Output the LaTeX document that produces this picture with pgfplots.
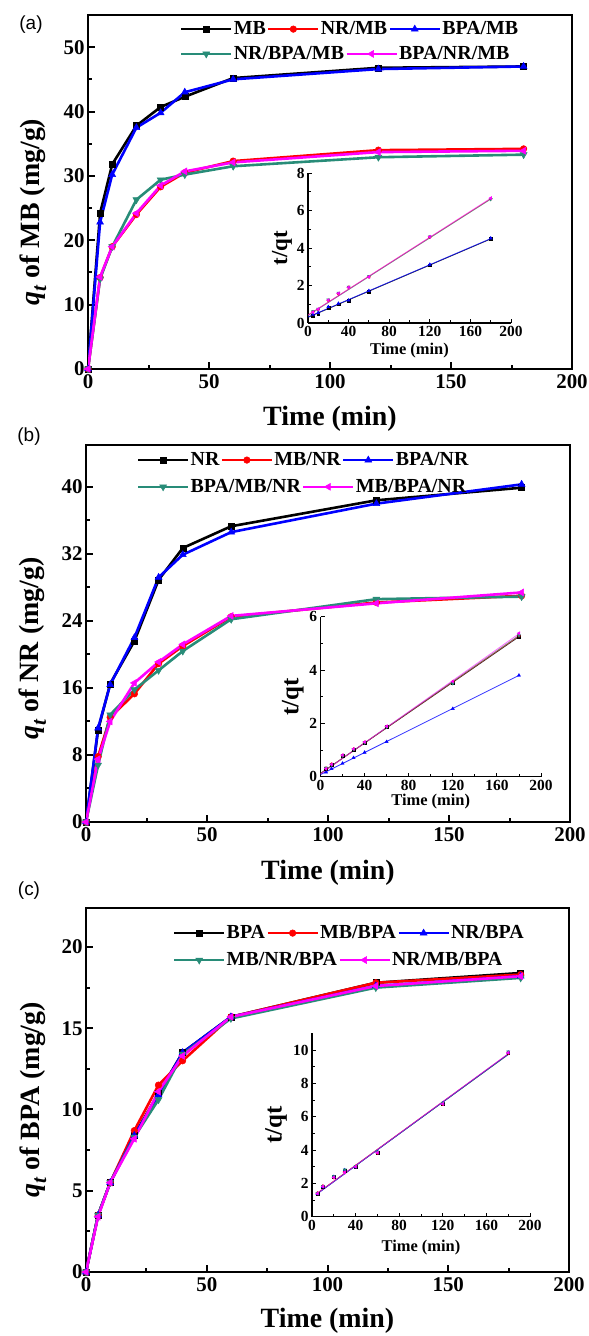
\documentclass[border=0pt]{standalone}
\usepackage{pgfplots}
\pgfplotsset{compat=1.18}
\usepackage{fontspec}
\setmainfont{Liberation Serif}
\newfontfamily\sansf{Liberation Sans}
\definecolor{cteal}{RGB}{40,140,120}
\definecolor{cmag}{RGB}{255,0,255}
\pgfplotsset{
  mainaxis/.style={scale only axis, xmin=0, xmax=200,
    axis line style={line width=2.6bp},
    tick align=inside, tick pos=left,
    major tick length=7bp, minor tick length=4bp,
    tick style={black, line width=2bp},
    xtick={0,50,...,200}, minor x tick num=1, minor y tick num=1,
    /pgf/number format/assume math mode=true,
    ticklabel style={font=\bfseries\fontsize{21}{21}\selectfont},
    xticklabel style={yshift=-2bp},
    xlabel={Time (min)},
    xlabel style={font=\bfseries\fontsize{28}{28}\selectfont, anchor=center},
    ylabel style={font=\bfseries\fontsize{28}{28}\selectfont, anchor=center},
    legend columns=-1,
    legend style={draw=none, fill=none, inner sep=0pt, outer sep=0pt,
      font=\bfseries\fontsize{20}{20}\selectfont,
      /tikz/every odd column/.style={column sep=0pt},
      /tikz/every even column/.style={column sep=0pt},
      nodes={inner sep=1.2bp}},
    legend image code/.code={\draw[mark repeat=2,mark phase=2,##1] plot coordinates {(0bp,0bp)(25bp,0bp)(50bp,0bp)};},
  },
  legaxis/.style={scale only axis, hide axis, xmin=0,xmax=1,ymin=0,ymax=1,
    legend columns=-1,
    legend style={draw=none, fill=none, inner sep=0pt, outer sep=0pt,
      font=\bfseries\fontsize{20}{20}\selectfont,
      /tikz/every odd column/.style={column sep=0pt},
      /tikz/every even column/.style={column sep=0pt},
      nodes={inner sep=1.2bp}},
    legend image code/.code={\draw[mark repeat=2,mark phase=2,##1] plot coordinates {(0bp,0bp)(25bp,0bp)(50bp,0bp)};},
  },
  pK/.style={black, line width=2.6bp, mark=square*, mark size=3bp, mark options={solid, line width=0.5bp}},
  pR/.style={red, line width=2.6bp, mark=*, mark size=3.3bp, mark options={solid, line width=0.5bp}},
  pB/.style={blue, line width=2.6bp, mark=triangle*, mark size=4bp, mark options={solid, line width=0.5bp}},
  pT/.style={cteal, line width=2.6bp, mark=triangle*, mark size=4bp, mark options={solid, line width=0.5bp, rotate=180}},
  pM/.style={cmag, line width=2.6bp, mark=triangle*, mark size=4bp, mark options={solid, line width=0.5bp, rotate=90}},
  insetaxis/.style={scale only axis, axis lines*=left, axis line style={line width=1.1bp},
    xmin=0, xmax=200, xtick={0,40,...,200}, minor x tick num=1, minor y tick num=1,
    tick align=inside, major tick length=4bp, minor tick length=2.5bp,
    tick style={black, line width=0.9bp},
    /pgf/number format/assume math mode=true,
    ticklabel style={font=\bfseries\fontsize{15.5}{15.5}\selectfont},
    xlabel={Time (min)}, ylabel={t/qt},
    xlabel style={font=\bfseries\fontsize{16.5}{16.5}\selectfont, anchor=center},
    ylabel style={font=\bfseries\fontsize{23}{23}\selectfont, anchor=center},
  },
  fK/.style={black, line width=0.8bp, no marks, opacity=0.8},
  fR/.style={red, line width=0.8bp, no marks, opacity=0.7},
  fB/.style={blue, line width=0.8bp, no marks, opacity=0.8},
  fT/.style={cteal, line width=0.8bp, no marks, opacity=0.6},
  fM/.style={cmag, line width=0.8bp, no marks, opacity=0.6},
  mK/.style={only marks, black, mark=square*, mark size=1.4bp},
  mR/.style={only marks, red, mark=*, mark size=1.5bp},
  mB/.style={only marks, blue, mark=triangle*, mark size=1.8bp},
  mT/.style={only marks, cteal, mark=triangle*, mark size=1.8bp, mark options={rotate=180}},
  mM/.style={only marks, cmag, mark=triangle*, mark size=1.8bp, mark options={rotate=90}},
}
\begin{document}
\begin{tikzpicture}
\useasboundingbox (0,0) rectangle (589bp,1336bp);
% ---------------- panel (a)
\begin{axis}[mainaxis, at={(88bp,967bp)}, anchor=south west, width=484bp, height=354bp,
  ymin=0, ymax=55, ytick={0,10,...,50},
  ylabel={\textit{q}\raisebox{-0.25em}{\fontsize{21}{21}\selectfont\textit{t}} of MB (mg/g)},
  xlabel style={at={(axis description cs:0.5,-0.141)}},
  ylabel style={at={(axis description cs:-0.114,0.443)}},
  legend style={at={(axis description cs:0.19,0.96)}, anchor=west}]
\addplot[pK] coordinates {(0,0)(5,24.2)(10,31.8)(20,37.8)(30,40.7)(40,42.3)(60,45.2)(120,46.8)(180,47.0)};
\addplot[pR] coordinates {(0,0)(5,14.2)(10,19)(20,24)(30,28.3)(40,30.5)(60,32.3)(120,34)(180,34.2)};
\addplot[pB] coordinates {(0,0)(5,22.8)(10,30.2)(20,37.5)(30,39.8)(40,43)(60,45)(120,46.6)(180,47)};
\addplot[pT, forget plot] coordinates {(0,0)(5,14)(10,19)(20,26.3)(30,29.4)(40,30.2)(60,31.5)(120,32.9)(180,33.3)};
\addplot[pM, forget plot] coordinates {(0,0)(5,14.3)(10,19)(20,24.2)(30,28.5)(40,30.7)(60,32.1)(120,33.7)(180,33.9)};
\legend{MB,NR/MB,BPA/MB}
\end{axis}
\begin{axis}[legaxis, at={(88bp,967bp)}, anchor=south west, width=484bp, height=354bp,
  legend style={at={(axis description cs:0.19,0.89)}, anchor=west}]
\addlegendimage{pT}\addlegendentry{NR/BPA/MB}
\addlegendimage{pM}\addlegendentry{BPA/NR/MB}
\end{axis}
\begin{axis}[insetaxis, at={(308bp,1013bp)}, anchor=south west, width=203bp, height=150bp,
  ymin=0, ymax=8, ytick={0,2,...,8},
  xlabel style={at={(axis description cs:0.5,-0.187)}},
  ylabel style={at={(axis description cs:-0.128,0.5)}}]
\addplot[fK] coordinates {(0,0.30)(180,4.48)};
\addplot[fB] coordinates {(0,0.32)(180,4.50)};
\addplot[fR] coordinates {(0,0.42)(180,6.62)};
\addplot[fT] coordinates {(0,0.40)(180,6.60)};
\addplot[fM] coordinates {(0,0.42)(180,6.65)};
\addplot[mK] coordinates {(5,0.40)(10,0.50)(20,0.82)(30,1.00)(40,1.18)(60,1.68)(120,3.08)(180,4.48)};
\addplot[mB] coordinates {(5,0.45)(10,0.55)(20,0.86)(30,1.04)(40,1.21)(60,1.72)(120,3.12)(180,4.52)};
\addplot[mR] coordinates {(5,0.60)(10,0.72)(20,1.20)(30,1.56)(40,1.90)(60,2.46)(120,4.58)(180,6.62)};
\addplot[mT] coordinates {(5,0.62)(10,0.75)(20,1.24)(30,1.60)(40,1.92)(60,2.48)(120,4.60)(180,6.60)};
\addplot[mM] coordinates {(5,0.58)(10,0.74)(20,1.22)(30,1.58)(40,1.90)(60,2.46)(120,4.60)(180,6.66)};
\end{axis}
% ---------------- panel (b)
\begin{axis}[mainaxis, at={(86bp,514bp)}, anchor=south west, width=484bp, height=377bp,
  ymin=0, ymax=45, ytick={0,8,...,40},
  ylabel={\textit{q}\raisebox{-0.25em}{\fontsize{21}{21}\selectfont\textit{t}} of NR (mg/g)},
  xlabel style={at={(axis description cs:0.5,-0.135)}},
  ylabel style={at={(axis description cs:-0.11,0.46)}},
  legend style={at={(axis description cs:0.105,0.96)}, anchor=west}]
\addplot[pK] coordinates {(0,0)(5,11)(10,16.5)(20,21.6)(30,28.9)(40,32.7)(60,35.3)(120,38.4)(180,39.9)};
\addplot[pR] coordinates {(0,0)(5,7.8)(10,12.5)(20,15.3)(30,18.9)(40,21)(60,24.5)(120,26.2)(180,27)};
\addplot[pB] coordinates {(0,0)(5,11.2)(10,16.4)(20,22)(30,29.2)(40,31.9)(60,34.6)(120,38)(180,40.3)};
\addplot[pT, forget plot] coordinates {(0,0)(5,6.8)(10,12.8)(20,15.8)(30,18.1)(40,20.4)(60,24.2)(120,26.6)(180,26.9)};
\addplot[pM, forget plot] coordinates {(0,0)(5,7.5)(10,12)(20,16.6)(30,19.1)(40,21.2)(60,24.6)(120,26.1)(180,27.4)};
\legend{NR,MB/NR,BPA/NR}
\end{axis}
\begin{axis}[legaxis, at={(86bp,514bp)}, anchor=south west, width=484bp, height=377bp,
  legend style={at={(axis description cs:0.105,0.889)}, anchor=west}]
\addlegendimage{pT}\addlegendentry{BPA/MB/NR}
\addlegendimage{pM}\addlegendentry{MB/BPA/NR}
\end{axis}
\begin{axis}[insetaxis, at={(320.5bp,559.3bp)}, anchor=south west, width=220.5bp, height=160bp,
  ymin=0, ymax=6, ytick={0,2,...,6},
  xlabel style={at={(axis description cs:0.5,-0.156)}},
  ylabel style={at={(axis description cs:-0.125,0.5)}, font=\bfseries\fontsize{25}{25}\selectfont}]
\addplot[fB] coordinates {(0,0.08)(180,3.80)};
\addplot[fK] coordinates {(0,0.12)(180,5.25)};
\addplot[fR] coordinates {(0,0.12)(180,5.28)};
\addplot[fT] coordinates {(0,0.12)(180,5.30)};
\addplot[fM] coordinates {(0,0.10)(180,5.36)};
\addplot[mB] coordinates {(5,0.17)(10,0.30)(20,0.50)(30,0.71)(40,0.91)(60,1.31)(120,2.55)(180,3.80)};
\addplot[mK] coordinates {(5,0.30)(10,0.46)(20,0.80)(30,1.02)(40,1.28)(60,1.86)(120,3.52)(180,5.24)};
\addplot[mR] coordinates {(5,0.32)(10,0.47)(20,0.80)(30,1.04)(40,1.29)(60,1.88)(120,3.56)(180,5.28)};
\addplot[mT] coordinates {(5,0.33)(10,0.45)(20,0.79)(30,1.03)(40,1.28)(60,1.87)(120,3.50)(180,5.30)};
\addplot[mM] coordinates {(5,0.30)(10,0.46)(20,0.81)(30,1.04)(40,1.30)(60,1.89)(120,3.57)(180,5.38)};
\end{axis}
% ---------------- panel (c)
\begin{axis}[mainaxis, at={(86bp,64bp)}, anchor=south west, width=483bp, height=364bp,
  ymin=0, ymax=22.4, ytick={0,5,...,20},
  ylabel={\textit{q}\raisebox{-0.25em}{\fontsize{21}{21}\selectfont\textit{t}} of BPA (mg/g)},
  xlabel style={at={(axis description cs:0.5,-0.135)}},
  ylabel style={at={(axis description cs:-0.11,0.473)}},
  legend style={at={(axis description cs:0.18,0.931)}, anchor=west}]
\addplot[pK] coordinates {(0,0)(5,3.5)(10,5.5)(20,8.4)(30,11)(40,13.5)(60,15.7)(120,17.8)(180,18.4)};
\addplot[pR] coordinates {(0,0)(5,3.5)(10,5.5)(20,8.7)(30,11.5)(40,13)(60,15.7)(120,17.8)(180,18.3)};
\addplot[pB] coordinates {(0,0)(5,3.5)(10,5.5)(20,8.4)(30,10.9)(40,13.5)(60,15.7)(120,17.6)(180,18.2)};
\addplot[pT, forget plot] coordinates {(0,0)(5,3.5)(10,5.5)(20,8.3)(30,10.6)(40,13.4)(60,15.6)(120,17.5)(180,18.1)};
\addplot[pM, forget plot] coordinates {(0,0)(5,3.4)(10,5.5)(20,8.2)(30,11.1)(40,13.3)(60,15.7)(120,17.6)(180,18.2)};
\legend{BPA,MB/BPA,NR/BPA}
\end{axis}
\begin{axis}[legaxis, at={(86bp,64bp)}, anchor=south west, width=483bp, height=364bp,
  legend style={at={(axis description cs:0.18,0.857)}, anchor=west}]
\addlegendimage{pT}\addlegendentry{MB/NR/BPA}
\addlegendimage{pM}\addlegendentry{NR/MB/BPA}
\end{axis}
\begin{axis}[insetaxis, at={(312bp,119.3bp)}, anchor=south west, width=218bp, height=183.3bp,
  ymin=0, ymax=11, ytick={0,2,...,10},
  xlabel style={at={(axis description cs:0.5,-0.17)}},
  ylabel style={at={(axis description cs:-0.165,0.5)}, font=\bfseries\fontsize{25}{25}\selectfont}]
\addplot[fK] coordinates {(5,1.40)(180,9.74)};
\addplot[fR] coordinates {(5,1.42)(180,9.76)};
\addplot[fB] coordinates {(5,1.38)(180,9.75)};
\addplot[fT] coordinates {(5,1.40)(180,9.72)};
\addplot[fM] coordinates {(5,1.40)(180,9.78)};
\addplot[mK] coordinates {(5,1.40)(10,1.82)(20,2.38)(30,2.77)(40,3.00)(60,3.85)(120,6.78)(180,9.85)};
\addplot[mR] coordinates {(5,1.42)(10,1.84)(20,2.34)(30,2.70)(40,3.02)(60,3.82)(120,6.75)(180,9.82)};
\addplot[mB] coordinates {(5,1.38)(10,1.80)(20,2.40)(30,2.80)(40,2.98)(60,3.88)(120,6.80)(180,9.86)};
\addplot[mT] coordinates {(5,1.41)(10,1.83)(20,2.42)(30,2.82)(40,3.03)(60,3.90)(120,6.82)(180,9.90)};
\addplot[mM] coordinates {(5,1.39)(10,1.81)(20,2.36)(30,2.66)(40,3.00)(60,3.84)(120,6.77)(180,9.84)};
\end{axis}
% panel letters
\node[font=\sansf\fontsize{19}{19}\selectfont] at (31bp,1311bp) {(a)};
\node[font=\sansf\fontsize{19}{19}\selectfont] at (29bp,899bp) {(b)};
\node[font=\sansf\fontsize{19}{19}\selectfont] at (29bp,445bp) {(c)};
\end{tikzpicture}
\end{document}
